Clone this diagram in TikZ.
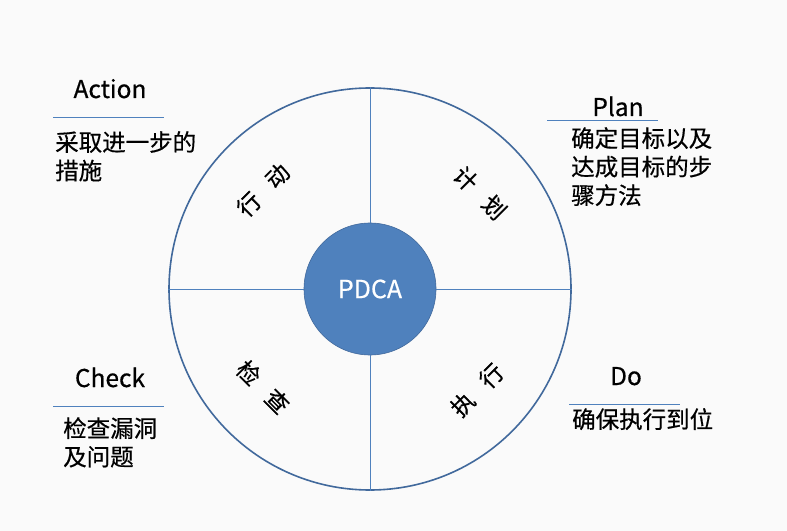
\documentclass[tikz,border=0pt]{standalone}
\usepackage{fontspec}
\setmainfont{Noto Sans CJK SC}[FakeBold=0.5]
\usepackage{xcolor}
\usepackage{tikz}

\definecolor{rimblue}{HTML}{41699C}
\definecolor{ruleblue}{HTML}{4F81BD}
\definecolor{hubblue}{HTML}{4F81BD}
\definecolor{paper}{HTML}{FAFAFA}

\tikzset{
  title/.style={anchor=base,inner sep=0pt,font=\fontsize{24.5bp}{28bp}\selectfont},
  note/.style={anchor=north west,inner sep=0pt,align=left,font=\fontsize{23.5bp}{28.5bp}\selectfont},
  phase/.style={inner sep=0pt,font=\fontsize{23bp}{26bp}\selectfont},
  rule/.style={draw=ruleblue,line width=0.8bp},
}

\begin{document}
\begin{tikzpicture}[x=1bp,y=-1bp]
  \fill[paper] (0,0) rectangle (787,531);
  \useasboundingbox (0,0) rectangle (787,531);

  % wheel
  \node[circle,draw=rimblue,line width=1.6bp,minimum size=402bp,inner sep=0pt] (rim) at (370,289) {};
  \node[circle,draw=rimblue,fill=hubblue,line width=0.6bp,minimum size=132bp,inner sep=0pt,
        text=white,font=\fontsize{25bp}{28bp}\selectfont] (hub) at (370,289) {PDCA};
  \draw[ruleblue,line width=1bp] (rim.north) -- (hub.north);
  \draw[ruleblue,line width=1bp] (rim.south) -- (hub.south);
  \draw[ruleblue,line width=1bp] (rim.west) -- (hub.west);
  \draw[ruleblue,line width=1bp] (rim.east) -- (hub.east);

  % quarter labels
  \node[phase,rotate=45] (act) at (263,190) {行\hspace{.75em}动};
  \node[phase,rotate=-45] (plan) at (480,193) {计\hspace{.75em}划};
  \node[phase,rotate=-45] (chk) at (263,387) {检\hspace{.75em}查};
  \node[phase,rotate=45] (do) at (477,390) {执\hspace{.75em}行};

  % Action
  \node[title] (actT) at (110,98) {Action};
  \coordinate (actL) at (53,117);
  \coordinate (actR) at (164,117);
  \draw[rule] (actL) -- (actR);
  \node[note] (actN) at (55,131) {采取进一步的\\措施};

  % Plan
  \node[title] (planT) at (618,116) {Plan};
  \coordinate (planL) at (547,120);
  \coordinate (planR) at (658,120);
  \draw[rule] (planL) -- (planR);
  \node[note] (planN) at (571,127) {确定目标以及\\达成目标的步\\骤方法};

  % Check
  \node[title] (chkT) at (110,387) {Check};
  \coordinate (chkL) at (53,406);
  \coordinate (chkR) at (164,406);
  \draw[rule] (chkL) -- (chkR);
  \node[note] (chkN) at (63,417) {检查漏洞\\及问题};

  % Do
  \node[title] (doT) at (626,385) {Do};
  \coordinate (doL) at (569,404);
  \coordinate (doR) at (680,404);
  \draw[rule] (doL) -- (doR);
  \node[note] (doN) at (572,408) {确保执行到位};
\end{tikzpicture}
\end{document}
